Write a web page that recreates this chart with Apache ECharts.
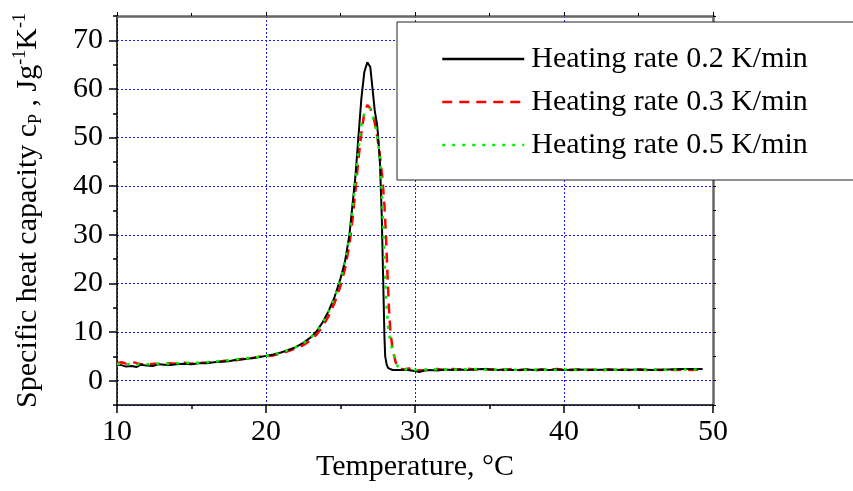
<!DOCTYPE html>
<html>
<head>
<meta charset="utf-8">
<script src="https://cdn.jsdelivr.net/npm/echarts@6/dist/echarts.min.js"></script>
<style>
  html, body { margin: 0; padding: 0; background: #fff; }
  #main { width: 853px; height: 491px; }
</style>
</head>
<body>
<div id="main"></div>
<script>
// series names
var names = ['Heating rate 0.2 K/min', 'Heating rate 0.3 K/min', 'Heating rate 0.5 K/min'];

// [temperature, cp]
var rate02 = [
  [10.0,3.3],[10.3,3.2],[10.6,2.9],[11.0,3.0],[11.3,2.8],[11.6,3.3],[12.0,3.1],[12.4,3.0],[12.8,3.4],[13.2,3.3],
  [13.6,3.2],[14.0,3.4],[14.5,3.5],[15.0,3.4],[15.5,3.6],[16.0,3.6],[16.5,3.8],[17.0,3.9],[17.5,4.0],[18.0,4.3],
  [18.5,4.4],[19.0,4.6],[19.5,4.8],[20.0,5.1],[20.5,5.4],[21.0,5.8],[21.5,6.3],[22.0,6.9],[22.5,7.8],[23.0,8.9],
  [23.4,10.2],[23.8,12.0],[24.2,14.3],[24.6,17.2],[25.0,21.0],[25.3,24.5],[25.6,30.0],[25.8,36.0],[26.0,42.0],
  [26.2,50.0],[26.4,58.0],[26.6,63.5],[26.8,65.5],[27.0,64.5],[27.15,60.0],[27.3,55.5],[27.45,52.8],[27.5,52.5],
  [27.52,50.5],[27.65,44.7],[27.77,33.7],[27.87,20.0],[27.95,9.0],[28.0,5.0],[28.1,3.3],[28.2,2.6],[28.5,2.2],
  [29.0,2.2],[29.5,2.2],[30.0,2.0],[30.3,1.8],[30.6,2.1],[31.0,2.2],[31.5,2.1],[32.0,2.3],[32.5,2.2],[33.0,2.3],
  [33.5,2.2],[34.0,2.3],[34.5,2.4],[35.0,2.3],[35.5,2.2],[36.0,2.3],[36.5,2.2],[37.0,2.2],[37.5,2.3],[38.0,2.2],
  [38.5,2.3],[39.0,2.2],[39.5,2.3],[40.0,2.2],[41.0,2.3],[42.0,2.2],[43.0,2.3],[44.0,2.2],[45.0,2.3],[46.0,2.2],
  [47.0,2.3],[48.0,2.4],[49.3,2.4]
];

var rate03 = [
  [10.0,3.6],[10.3,3.8],[10.6,3.5],[11.0,3.9],[11.3,3.6],[11.6,3.4],[12.0,3.3],[12.5,3.5],[13.0,3.4],[13.5,3.6],
  [14.0,3.5],[14.5,3.7],[15.0,3.5],[15.5,3.7],[16.0,3.7],[16.5,3.9],[17.0,4.0],[17.5,4.2],[18.0,4.2],[18.5,4.5],
  [19.0,4.6],[19.5,4.9],[20.0,5.0],[20.5,5.2],[21.0,5.6],[21.5,6.1],[22.0,6.6],[22.5,7.3],[23.0,8.3],[23.4,9.5],
  [23.8,11.2],[24.2,13.3],[24.6,16.0],[25.0,19.5],[25.3,23.0],[25.6,28.0],[25.8,33.0],[26.0,39.0],[26.2,45.5],
  [26.4,51.0],[26.6,55.0],[26.8,56.7],[27.0,56.0],[27.2,54.5],[27.4,51.5],[27.6,47.5],[27.8,42.0],[27.95,36.0],
  [28.05,30.0],[28.15,22.0],[28.25,15.0],[28.35,10.0],[28.5,6.5],[28.7,3.8],[28.9,2.6],[29.2,2.3],[29.6,2.5],
  [30.0,2.2],[30.5,2.1],[31.0,2.3],[31.5,2.4],[32.0,2.2],[32.5,2.4],[33.0,2.3],[33.5,2.5],[34.0,2.3],[34.5,2.5],
  [35.0,2.3],[35.5,2.4],[36.0,2.2],[36.5,2.4],[37.0,2.2],[37.5,2.3],[38.0,2.1],[38.5,2.3],[39.0,2.2],[39.5,2.4],
  [40.0,2.3],[40.5,2.2],[41.0,2.3],[41.5,2.2],[42.0,2.3],[42.5,2.1],[43.0,2.3],[43.5,2.2],[44.0,2.3],[44.5,2.2],
  [45.0,2.3],[45.5,2.2],[46.0,2.3],[46.5,2.2],[47.0,2.3],[47.5,2.2],[48.0,2.3],[48.5,2.2],[49.3,2.3]
];

var rate05 = [
  [10.0,3.4],[10.3,3.5],[10.6,3.3],[11.0,3.5],[11.3,3.2],[11.6,3.5],[12.0,3.4],[12.5,3.4],[13.0,3.6],[13.5,3.5],
  [14.0,3.6],[14.5,3.6],[15.0,3.7],[15.5,3.7],[16.0,3.8],[16.5,3.9],[17.0,4.1],[17.5,4.2],[18.0,4.4],[18.5,4.5],
  [19.0,4.7],[19.5,4.9],[20.0,5.1],[20.5,5.4],[21.0,5.8],[21.5,6.3],[22.0,6.9],[22.5,7.7],[23.0,8.8],[23.4,10.1],
  [23.8,11.9],[24.2,14.2],[24.6,17.1],[25.0,20.8],[25.3,24.3],[25.6,29.5],[25.8,35.0],[26.0,41.0],[26.2,47.5],
  [26.4,52.5],[26.6,55.0],[26.8,55.8],[27.0,56.0],[27.2,54.0],[27.4,51.5],[27.55,48.5],[27.7,43.5],[27.8,37.0],
  [27.9,29.0],[28.0,21.0],[28.1,15.0],[28.2,11.0],[28.35,8.0],[28.5,6.0],[28.7,4.0],[28.9,2.5],[29.0,2.1],
  [29.3,2.3],[29.7,2.4],[30.0,2.2],[30.5,2.2],[31.0,2.4],[31.5,2.3],[32.0,2.3],[32.5,2.2],[33.0,2.4],[33.5,2.3],
  [34.0,2.4],[34.5,2.3],[35.0,2.2],[35.5,2.3],[36.0,2.3],[36.5,2.2],[37.0,2.3],[37.5,2.2],[38.0,2.3],[38.5,2.2],
  [39.0,2.3],[39.5,2.2],[40.0,2.3],[41.0,2.2],[42.0,2.3],[43.0,2.2],[44.0,2.3],[45.0,2.2],[46.0,2.3],[47.0,2.2],
  [48.0,2.3],[49.3,2.3]
];

// axis ranges
var xRange = [10, 50];
var yRange = [-5, 75];

var font = "'Liberation Serif', 'Times New Roman', serif";
var gridLine = { show: true, lineStyle: { color: '#1a1aff', type: [2, 2], width: 1 } };

var chart = echarts.init(document.getElementById('main'));
chart.setOption({
    animation: false,
    backgroundColor: '#fff',
    grid: { left: 117, right: 140, top: 16, bottom: 86, containLabel: false, outerBoundsMode: 'none' },
    legend: {
        orient: 'vertical',
        left: 397, top: 22,
        padding: [22, 60, 20, 44],
        itemGap: 13,
        itemWidth: 82, itemHeight: 30,
        backgroundColor: '#fff',
        borderColor: '#222', borderWidth: 1,
        z: 10,
        itemStyle: { opacity: 0 },
        lineStyle: { width: 2.5 },
        textStyle: { fontFamily: font, fontSize: 30, color: '#000', padding: [0, 0, 0, 2] },
        data: names
    },
    xAxis: [
        {
            type: 'value', position: 'bottom',
            min: xRange[0], max: xRange[1], interval: 10,
            name: 'Temperature, °C', nameLocation: 'middle', nameGap: 46,
            nameTextStyle: { fontFamily: font, fontSize: 30, color: '#000' },
            axisLine: { show: true, onZero: false, lineStyle: { color: '#000', width: 1.5 } },
            axisTick: { show: true, length: 8, lineStyle: { color: '#000', width: 1.5 } },
            minorTick: { show: true, splitNumber: 2, length: 4, lineStyle: { color: '#000', width: 1.5 } },
            axisLabel: { fontFamily: font, fontSize: 30, color: '#000', margin: 12 },
            splitLine: gridLine
        },
        {
            type: 'value', position: 'top',
            min: xRange[0], max: xRange[1], interval: 10,
            axisLine: { show: true, onZero: false, lineStyle: { color: '#666', width: 2.5 } },
            axisTick: { show: true, length: 4, lineStyle: { color: '#000' } },
            minorTick: { show: true, splitNumber: 2, length: 3, lineStyle: { color: '#000' } },
            axisLabel: { show: false },
            splitLine: { show: false }
        }
    ],
    yAxis: [
        {
            type: 'value', position: 'left',
            min: yRange[0], max: yRange[1], splitNumber: 8,
            name: 'Specific heat capacity c{sub|P} , Jg{sup|-1}K{sup|-1}',
            nameLocation: 'middle', nameGap: 72,
            nameTextStyle: {
                fontFamily: font, fontSize: 30, color: '#000', lineHeight: 34,
                rich: {
                    sub: { fontFamily: font, fontSize: 18, color: '#000', verticalAlign: 'bottom', lineHeight: 18 },
                    sup: { fontFamily: font, fontSize: 18, color: '#000', verticalAlign: 'top', lineHeight: 18 }
                }
            },
            axisLine: { show: true, onZero: false, lineStyle: { color: '#000', width: 1.5 } },
            axisTick: { show: true, length: 8, lineStyle: { color: '#000', width: 1.5 } },
            axisLabel: { fontFamily: font, fontSize: 30, color: '#000', margin: 14, showMinLabel: false, showMaxLabel: false },
            splitLine: gridLine
        },
        {
            type: 'value', position: 'left',
            min: yRange[0], max: yRange[1], interval: 5,
            axisLine: { show: false },
            axisTick: { show: true, length: 4, lineStyle: { color: '#000', width: 1.5 } },
            axisLabel: { show: false },
            splitLine: { show: false }
        },
        {
            type: 'value', position: 'right',
            min: yRange[0], max: yRange[1], interval: 5,
            axisLine: { show: true, onZero: false, lineStyle: { color: '#666', width: 2.5 } },
            axisTick: { show: true, length: 3, lineStyle: { color: '#000' } },
            axisLabel: { show: false },
            splitLine: { show: false }
        }
    ],
    series: [
        {
            name: names[0], type: 'line', data: rate02, symbol: 'none', z: 4,
            lineStyle: { color: '#000', width: 2, type: 'solid' },
            itemStyle: { color: '#000' }
        },
        {
            name: names[1], type: 'line', data: rate03, symbol: 'none', z: 3,
            lineStyle: { color: '#ff0000', width: 2.5, type: [10, 7] },
            itemStyle: { color: '#ff0000' }
        },
        {
            name: names[2], type: 'line', data: rate05, symbol: 'none', z: 5,
            lineStyle: { color: '#00ee00', width: 2.5, type: [3, 7] },
            itemStyle: { color: '#00ee00' }
        }
    ]
});
</script>
</body>
</html>
